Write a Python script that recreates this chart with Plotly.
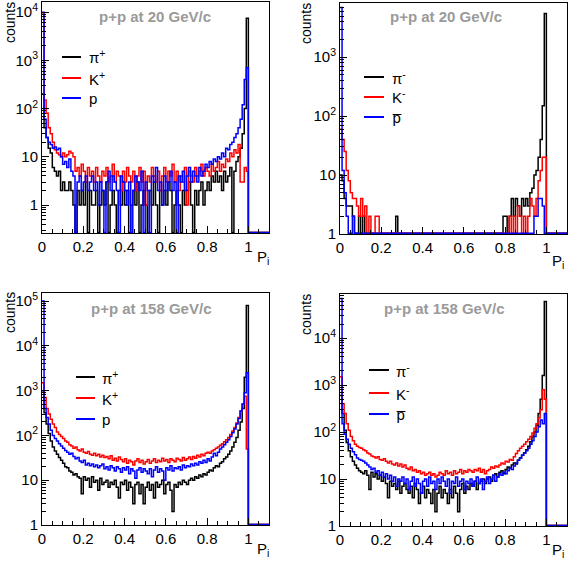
import plotly.graph_objects as go

# ---------------- data (counts per bin, bins of width 0.01 from 0 to 1.0; 1.0-1.1 empty) ----------------
bin_width = 0.01
n_empty_tail = 10

# p+p at 20 GeV/c, positives
pip_20 = [200, 40, 25, 15, 12, 6, 5, 4, 5, 2,
          3, 2, 2, 3, 2, 1, 0, 2, 1, 2,
          1, 3, 0, 2, 1, 1, 2, 0, 1, 2,
          1, 3, 0, 1, 2, 1, 0, 2, 1, 3,
          1, 2, 0, 1, 2, 1, 3, 0, 1, 2,
          1, 0, 2, 1, 3, 1, 0, 2, 1, 2,
          1, 3, 2, 0, 1, 2, 1, 0, 2, 1,
          2, 3, 1, 0, 2, 1, 2, 3, 1, 2,
          3, 2, 4, 3, 5, 3, 4, 2, 5, 3,
          4, 6, 0, 5, 8, 10, 15, 30, 100, 7500]
kp_20 = [9000, 150, 80, 40, 30, 20, 14, 12, 11, 10,
         12, 10, 11, 13, 12, 10, 5, 6, 4, 7,
         5, 3, 6, 4, 5, 3, 6, 4, 3, 5,
         4, 6, 3, 4, 7, 3, 5, 4, 2, 5,
         3, 6, 4, 3, 5, 2, 4, 6, 3, 5,
         1, 4, 3, 6, 4, 3, 5, 2, 4, 6,
         3, 5, 4, 7, 3, 5, 2, 4, 3, 6,
         1, 5, 4, 3, 6, 4, 5, 7, 4, 6,
         5, 4, 7, 5, 6, 8, 5, 7, 6, 9,
         8, 12, 10, 14, 12, 18, 3, 3, 6, 5]
p_20 = [10000, 60, 25, 20, 18, 15, 16, 14, 15, 10,
        7, 8, 6, 9, 5, 4, 0, 3, 4, 2,
        3, 4, 2, 3, 4, 2, 3, 1, 3, 2,
        0, 3, 5, 2, 4, 3, 2, 0, 4, 3,
        2, 1, 3, 0, 2, 4, 3, 2, 5, 0,
        3, 2, 0, 4, 3, 6, 2, 3, 1, 4,
        2, 3, 5, 2, 3, 0, 4, 3, 5, 2,
        4, 6, 3, 5, 4, 3, 6, 4, 5, 7,
        6, 8, 7, 9, 8, 10, 9, 12, 10, 15,
        14, 18, 20, 25, 30, 40, 60, 120, 400, 700]

# p+p at 20 GeV/c, negatives
pim_20 = [10, 8, 4, 3, 3, 3, 2, 0, 1, 2,
          0, 2, 0, 1, 0, 0, 0, 0, 0, 0,
          0, 0, 0, 0, 0, 0, 0, 2, 0, 0,
          0, 0, 0, 0, 0, 0, 0, 0, 0, 0,
          0, 0, 0, 0, 0, 0, 0, 0, 0, 0,
          0, 0, 0, 0, 0, 0, 0, 0, 0, 0,
          0, 0, 0, 0, 0, 0, 0, 0, 0, 0,
          0, 0, 0, 0, 0, 0, 0, 0, 0, 2,
          2, 0, 2, 4, 2, 4, 3, 2, 4, 3,
          4, 3, 5, 6, 10, 12, 20, 40, 150, 5500]
km_20 = [60, 40, 25, 12, 8, 5, 4, 4, 3, 2,
         4, 2, 3, 1, 2, 0, 1, 2, 2, 0,
         0, 0, 0, 0, 0, 0, 0, 0, 0, 0,
         0, 0, 0, 0, 0, 0, 0, 0, 0, 0,
         0, 0, 0, 0, 0, 0, 0, 0, 0, 0,
         0, 0, 0, 0, 0, 0, 0, 0, 0, 0,
         0, 0, 0, 0, 0, 0, 0, 0, 0, 0,
         0, 0, 0, 0, 0, 0, 0, 0, 0, 0,
         0, 0, 2, 0, 2, 0, 3, 2, 0, 2,
         1, 2, 4, 3, 2, 4, 8, 12, 20, 20]
pbar_20 = [7000, 12, 5, 2, 1, 0, 2, 0, 0, 0,
           0, 0, 0, 0, 0, 0, 0, 0, 0, 0,
           0, 0, 0, 0, 0, 0, 0, 0, 0, 0,
           0, 0, 0, 0, 0, 0, 0, 0, 0, 0,
           0, 0, 0, 0, 0, 0, 0, 0, 0, 0,
           0, 0, 0, 0, 0, 0, 0, 0, 0, 0,
           0, 0, 0, 0, 0, 0, 0, 0, 0, 0,
           0, 0, 0, 0, 0, 0, 0, 0, 0, 0,
           0, 0, 0, 0, 0, 0, 0, 0, 0, 0,
           0, 0, 0, 0, 2, 2, 4, 4, 3, 1]

# p+p at 158 GeV/c, positives
pip_158 = [1000, 320, 180, 110, 75, 55, 45, 38, 32, 28,
           24, 20, 19, 16, 15, 13, 14, 12, 11, 5,
           12, 10, 11, 7, 12, 9, 10, 6, 11, 8,
           9, 10, 7, 9, 8, 10, 7, 4, 9, 8,
           10, 6, 9, 7, 3, 8, 9, 5, 8, 3,
           7, 9, 6, 8, 4, 9, 7, 8, 10, 5,
           8, 9, 6, 2, 8, 7, 9, 8, 10, 9,
           8, 10, 11, 10, 12, 11, 13, 12, 14, 13,
           15, 17, 16, 19, 21, 20, 24, 26, 30, 33,
           38, 45, 55, 70, 90, 130, 200, 400, 2000, 80000]
kp_158 = [1500, 700, 400, 300, 230, 180, 150, 120, 105, 95,
          85, 75, 70, 62, 58, 52, 55, 48, 45, 50,
          42, 40, 44, 38, 36, 40, 35, 38, 33, 36,
          32, 34, 30, 35, 28, 31, 27, 33, 29, 26,
          30, 24, 28, 26, 22, 27, 30, 25, 28, 23,
          26, 29, 24, 27, 30, 25, 28, 26, 31, 27,
          29, 25, 30, 28, 26, 31, 29, 27, 32, 28,
          30, 33, 29, 34, 31, 36, 33, 38, 35, 40,
          42, 40, 45, 48, 52, 55, 60, 65, 72, 80,
          90, 105, 125, 150, 190, 250, 350, 500, 750, 50]
p_158 = [100000, 400, 250, 180, 130, 100, 85, 75, 65, 58,
         52, 46, 42, 38, 40, 34, 30, 32, 27, 25,
         28, 22, 24, 21, 23, 20, 22, 19, 21, 23,
         18, 20, 17, 21, 19, 16, 20, 18, 15, 19,
         17, 20, 14, 18, 16, 11, 17, 19, 15, 18,
         16, 14, 18, 12, 17, 20, 15, 18, 16, 10,
         19, 17, 21, 16, 19, 18, 20, 17, 22, 19,
         21, 20, 23, 21, 24, 22, 26, 24, 28, 25,
         30, 27, 33, 40, 35, 42, 50, 55, 62, 70,
         80, 95, 115, 140, 180, 240, 350, 500, 900, 2500]

# p+p at 158 GeV/c, negatives
pim_158 = [600, 250, 110, 60, 40, 30, 24, 20, 17, 15,
           14, 13, 15, 12, 6, 14, 11, 13, 10, 12,
           9, 11, 8, 4, 9, 7, 8, 6, 9, 5,
           7, 8, 6, 5, 7, 4, 8, 6, 3, 5,
           7, 4, 6, 5, 3, 6, 2, 5, 7, 4,
           6, 5, 3, 6, 4, 7, 5, 2, 6, 8,
           5, 7, 6, 8, 7, 9, 6, 8, 9, 10,
           8, 10, 11, 9, 12, 13, 11, 14, 15, 13,
           16, 18, 17, 20, 22, 21, 25, 28, 32, 36,
           42, 50, 62, 80, 100, 140, 250, 500, 1600, 60000]
km_158 = [1500, 400, 250, 150, 110, 80, 65, 55, 50, 47,
          45, 42, 40, 36, 34, 31, 30, 28, 30, 26,
          25, 27, 24, 22, 24, 21, 20, 22, 19, 21,
          18, 20, 17, 16, 18, 15, 16, 14, 15, 13,
          14, 12, 13, 14, 12, 13, 11, 12, 14, 13,
          12, 15, 13, 14, 12, 15, 13, 14, 16, 13,
          15, 14, 16, 15, 14, 16, 15, 17, 14, 16,
          13, 15, 16, 18, 17, 19, 18, 20, 22, 21,
          24, 23, 26, 25, 30, 35, 40, 45, 50, 55,
          62, 70, 80, 95, 120, 150, 200, 300, 800, 500]
pbar_158 = [70000, 150, 90, 70, 55, 45, 38, 33, 28, 26,
            25, 24, 22, 20, 18, 16, 17, 14, 15, 12,
            14, 11, 13, 10, 12, 9, 11, 7, 10, 9,
            11, 8, 10, 6, 9, 11, 7, 10, 8, 5,
            9, 10, 7, 11, 8, 9, 6, 10, 8, 11,
            9, 7, 10, 5, 9, 8, 11, 7, 9, 10,
            6, 9, 8, 10, 7, 9, 11, 8, 10, 6,
            9, 11, 8, 10, 12, 9, 11, 13, 12, 14,
            13, 15, 17, 16, 19, 22, 25, 28, 32, 36,
            40, 45, 55, 65, 80, 100, 130, 180, 150, 250]

panel_titles = ["p+p at 20 GeV/c", "p+p at 20 GeV/c", "p+p at 158 GeV/c", "p+p at 158 GeV/c"]
legend_labels = [["π<sup>+</sup>", "K<sup>+</sup>", "p"],
                 ["π<sup>-</sup>", "K<sup>-</sup>", "p\u0305"],
                 ["π<sup>+</sup>", "K<sup>+</sup>", "p"],
                 ["π<sup>-</sup>", "K<sup>-</sup>", "p\u0305"]]
panel_series = [[pip_20, kp_20, p_20],
                [pim_20, km_20, pbar_20],
                [pip_158, kp_158, p_158],
                [pim_158, km_158, pbar_158]]
series_colors = ["#000000", "#ff0000", "#0000ff"]
y_tick_vals = [1, 10, 100, 1000, 10000, 100000]
y_tick_text = ["1", "10", "10<sup>2</sup>", "10<sup>3</sup>", "10<sup>4</sup>", "10<sup>5</sup>"]
x_tick_vals = [0, 0.2, 0.4, 0.6, 0.8, 1.0]
x_tick_text = ["0", "0.2", "0.4", "0.6", "0.8", "1"]

# ---------------- layout geometry (pixels) ----------------
W, H = 568, 562
FONT = "Liberation Sans, Arial, Helvetica, sans-serif"
# frame boxes: left, right, top, bottom
frames = [(42, 269, 2, 233), (340, 567, 3, 234), (42, 269, 293, 525), (340, 567, 294, 526)]
y_log_ranges = [(-0.58, 4.21), (0.0, 3.92), (0.0, 5.18), (0.0, 4.94)]
title_pos = [(155, 17), (446, 17), (151, 308), (444, 308)]
counts_pos = [(10, 23), (306, 23), (10, 313), (306, 314)]
pi_pos = [(271, 257), (566, 261), (271, 549), (566, 550)]
legend_line_x = [(62, 81), (364, 384), (76, 95), (369, 389)]
legend_text_x = [87, 390, 100, 394]
legend_rows = [(57, 78, 98), (77, 97, 117), (377, 398, 419), (370, 393, 414)]


def px(x):
    return x / W


def py(y):
    return 1 - y / H


fig = go.Figure()
edges = [round(i * bin_width, 4) for i in range(100 + n_empty_tail + 1)]
for k in range(4):
    ax = "" if k == 0 else str(k + 1)
    ymin = y_log_ranges[k][0]
    floor = 10 ** (ymin + 0.012)
    for s, counts in enumerate(panel_series[k]):
        full = list(counts) + [0] * n_empty_tail
        yv = [max(c, floor) for c in full]
        xs = edges[:-1] + [edges[-1]]
        ys = yv + [yv[-1]]
        fig.add_trace(go.Scatter(
            x=xs, y=ys, mode="lines", line=dict(shape="hv", color=series_colors[s], width=1.5),
            xaxis="x" + ax, yaxis="y" + ax, showlegend=False, hoverinfo="skip"))

    l, r, t, b = frames[k]
    xdom = [px(l), px(r)]
    ydom = [py(b), py(t)]
    xa = dict(domain=xdom, range=[0, 1.1], anchor="y" + ax, showgrid=False, zeroline=False,
              automargin=False,
              showline=True, linecolor="black", linewidth=1, mirror=True,
              ticks="inside", ticklen=7, tickcolor="black", tickwidth=1,
              tickvals=x_tick_vals, ticktext=x_tick_text,
              tickfont=dict(family=FONT, size=15, color="black"),
              minor=dict(ticks="inside", ticklen=4, dtick=0.05, tick0=0, tickcolor="black", showgrid=False))
    ya = dict(domain=ydom, type="log", range=list(y_log_ranges[k]), anchor="x" + ax, showgrid=False,
              zeroline=False, automargin=False,
              showline=True, linecolor="black", linewidth=1, mirror=True,
              ticks="inside", ticklen=7, tickcolor="black", tickwidth=1,
              tickvals=y_tick_vals, ticktext=y_tick_text,
              tickfont=dict(family=FONT, size=15, color="black"),
              minor=dict(ticks="inside", ticklen=4, dtick="D1", tickcolor="black", showgrid=False))
    fig.layout["xaxis" + ax] = xa
    fig.layout["yaxis" + ax] = ya

annotations = []
shapes = []
for k in range(4):
    tx, ty = title_pos[k]
    annotations.append(dict(x=px(tx), y=py(ty), xref="paper", yref="paper", text="<b>" + panel_titles[k] + "</b>",
                            showarrow=False, xanchor="center", yanchor="middle",
                            font=dict(family=FONT, size=15, color="#9a9a9a")))
    cx, cy = counts_pos[k]
    annotations.append(dict(x=px(cx), y=py(cy), xref="paper", yref="paper", text="counts", textangle=-90,
                            showarrow=False, xanchor="center", yanchor="middle",
                            font=dict(family=FONT, size=14, color="black")))
    ppx, ppy = pi_pos[k]
    annotations.append(dict(x=px(ppx), y=py(ppy), xref="paper", yref="paper", text="P<sub>i</sub>",
                            showarrow=False, xanchor="right", yanchor="middle",
                            font=dict(family=FONT, size=15, color="black")))
    x0, x1 = legend_line_x[k]
    for s in range(3):
        yy = legend_rows[k][s]
        shapes.append(dict(type="line", xref="paper", yref="paper", x0=px(x0), x1=px(x1), y0=py(yy), y1=py(yy),
                           line=dict(color=series_colors[s], width=2)))
        annotations.append(dict(x=px(legend_text_x[k]), y=py(yy), xref="paper", yref="paper",
                                text=legend_labels[k][s], showarrow=False, xanchor="left", yanchor="middle",
                                font=dict(family=FONT, size=15, color="black")))

fig.update_layout(width=W, height=H, margin=dict(l=0, r=0, t=0, b=0),
                  paper_bgcolor="white", plot_bgcolor="white",
                  annotations=annotations, shapes=shapes, showlegend=False)

fig.write_html("out.html", config={"displayModeBar": False},
               post_script="document.body.style.margin='0';document.body.style.padding='0';")
